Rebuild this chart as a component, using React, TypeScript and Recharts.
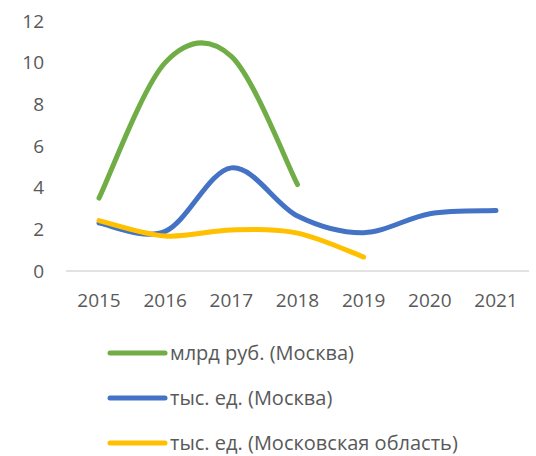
import { LineChart, Line, XAxis, YAxis, Legend } from "recharts";

const years = ["2015", "2016", "2017", "2018", "2019", "2020", "2021"];
const rubMoscow = [3.5, 10.0, 10.3, 4.15, null, null, null];
const unitsMoscow = [2.3, 1.9, 4.95, 2.64, 1.84, 2.75, 2.9];
const unitsRegion = [2.42, 1.68, 1.97, 1.82, 0.67, null, null];
const yTicks = [0, 2, 4, 6, 8, 10, 12];

const series = [
  { key: "rub", name: "млрд руб. (Москва)", color: "#70AD47", values: rubMoscow },
  { key: "msk", name: "тыс. ед. (Москва)", color: "#4472C4", values: unitsMoscow },
  { key: "mo", name: "тыс. ед. (Московская область)", color: "#FFC000", values: unitsRegion },
];

const data = years.map((year, i) => ({
  year,
  rub: rubMoscow[i],
  msk: unitsMoscow[i],
  mo: unitsRegion[i],
}));

const FONT = "'Open Sans', sans-serif";
const TEXT = "#595959";

// Excel-like smoothing (Catmull-Rom through the points)
function excelSmooth(context: any) {
  let pts: [number, number][] = [];
  return {
    areaStart() {},
    areaEnd() {},
    lineStart() {
      pts = [];
    },
    lineEnd() {
      const n = pts.length;
      if (!n) return;
      context.moveTo(pts[0][0], pts[0][1]);
      for (let i = 0; i < n - 1; i++) {
        const p0 = pts[Math.max(i - 1, 0)];
        const p1 = pts[i];
        const p2 = pts[i + 1];
        const p3 = pts[Math.min(i + 2, n - 1)];
        context.bezierCurveTo(
          p1[0] + (p2[0] - p0[0]) / 6,
          p1[1] + (p2[1] - p0[1]) / 6,
          p2[0] - (p3[0] - p1[0]) / 6,
          p2[1] - (p3[1] - p1[1]) / 6,
          p2[0],
          p2[1]
        );
      }
    },
    point(x: number, y: number) {
      pts.push([+x, +y]);
    },
  };
}

function LegendBox() {
  return (
    <div>
      {series.map((s) => (
        <div
          key={s.key}
          style={{ display: "flex", alignItems: "center", height: 45 }}
        >
          <svg width={61} height={10}>
            <line
              x1={3}
              y1={5}
              x2={58}
              y2={5}
              stroke={s.color}
              strokeWidth={5}
              strokeLinecap="round"
            />
          </svg>
          <span style={{ fontFamily: FONT, fontSize: 20, lineHeight: "26px", color: TEXT, marginLeft: 2, whiteSpace: "nowrap" }}>
            {s.name}
          </span>
        </div>
      ))}
    </div>
  );
}

export default function App() {
  return (
    <div style={{ position: "absolute", left: 0, top: 0, width: 536, height: 456, background: "#fff" }}>
      <LineChart
        width={536}
        height={456}
        data={data}
        margin={{ top: 21, right: 7, left: 0, bottom: 0 }}
      >
        <XAxis
          dataKey="year"
          height={185}
          padding={{ left: 33, right: 33 }}
          tickLine={false}
          tickSize={0}
          tickMargin={23}
          axisLine={{ stroke: "#d9d9d9", strokeWidth: 1.5 }}
          tick={{ fill: TEXT, fontSize: 19, fontFamily: FONT }}
          interval={0}
        />
        <YAxis
          width={66}
          domain={[0, 12]}
          ticks={yTicks}
          tickLine={false}
          tickSize={0}
          tickMargin={22}
          axisLine={false}
          tick={{ fill: TEXT, fontSize: 19, fontFamily: FONT }}
        />
        {series.map((s) => (
          <Line
            key={s.key}
            dataKey={s.key}
            name={s.name}
            type={excelSmooth as any}
            stroke={s.color}
            strokeWidth={5}
            strokeLinecap="round"
            dot={false}
            activeDot={false}
            isAnimationActive={false}
          />
        ))}
        <Legend
          layout="vertical"
          align="center"
          verticalAlign="middle"
          wrapperStyle={{ top: 330, left: 107, width: 425 }}
          content={() => <LegendBox />}
        />
      </LineChart>
    </div>
  );
}
